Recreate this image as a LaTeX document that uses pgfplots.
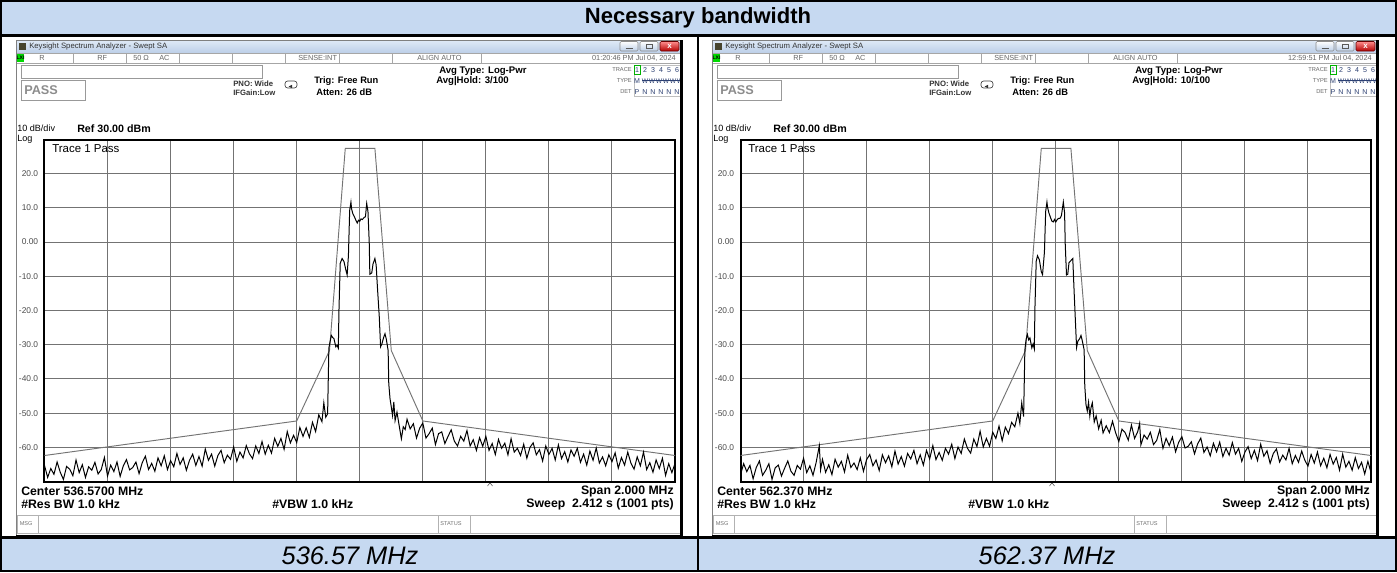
\documentclass[border=0pt]{standalone}
\usepackage{fontspec}
\setmainfont{Liberation Sans}
\usepackage{pgfplots}
\usepackage{pgfplotstable}
\pgfplotsset{compat=1.18}
\definecolor{tblue}{RGB}{198,217,241}
\definecolor{winA}{RGB}{224,234,247}
\definecolor{winB}{RGB}{188,207,232}
\definecolor{slate}{RGB}{45,65,115}
\newcommand\fs[1]{\fontsize{#1}{#1}\selectfont}

% limit (mask) line, same in both screens
\pgfplotstableread[row sep=\\]{x y\\ 0 -62.4\\ 4.0 -52.3\\ 4.52 -31.7\\ 4.77 27.4\\ 5.24 27.4\\ 5.50 -31.7\\ 6.0 -52.3\\ 10 -62.4\\}\limitA

% trace 1, 536.57 MHz
\pgfplotstableread[row sep=\\]{x y\\
0.00 -65.3\\ 0.05 -68.8\\ 0.10 -66.2\\ 0.15 -67.9\\ 0.20 -64.3\\ 0.25 -67.3\\ 0.30 -69.4\\ 0.35 -65.6\\ 0.40 -66.4\\ 0.45 -68.3\\
0.50 -63.7\\ 0.55 -67.4\\ 0.60 -65.1\\ 0.65 -68.8\\ 0.70 -65.7\\ 0.75 -66.7\\ 0.80 -64.4\\ 0.85 -67.8\\ 0.90 -66.5\\ 0.95 -63.0\\
1.00 -68.4\\ 1.05 -65.2\\ 1.10 -67.1\\ 1.15 -64.3\\ 1.20 -68.5\\ 1.25 -65.4\\ 1.30 -63.6\\ 1.35 -66.6\\ 1.40 -65.9\\ 1.45 -64.3\\
1.50 -67.7\\ 1.55 -64.5\\ 1.60 -62.6\\ 1.65 -66.5\\ 1.70 -64.7\\ 1.75 -67.0\\ 1.80 -63.1\\ 1.85 -65.4\\ 1.90 -62.5\\ 1.95 -66.5\\
2.00 -63.9\\ 2.05 -65.7\\ 2.10 -61.8\\ 2.15 -65.0\\ 2.20 -63.1\\ 2.25 -66.7\\ 2.30 -63.8\\ 2.35 -62.0\\ 2.40 -65.3\\ 2.45 -62.7\\
2.50 -65.5\\ 2.55 -60.5\\ 2.60 -63.8\\ 2.65 -62.0\\ 2.70 -65.5\\ 2.75 -62.4\\ 2.80 -60.9\\ 2.85 -64.5\\ 2.90 -62.3\\ 2.95 -63.5\\
3.00 -59.9\\ 3.05 -64.1\\ 3.10 -61.4\\ 3.15 -63.1\\ 3.20 -59.5\\ 3.25 -61.9\\ 3.30 -63.3\\ 3.35 -59.6\\ 3.40 -61.8\\ 3.45 -58.3\\
3.50 -62.0\\ 3.55 -59.4\\ 3.60 -61.7\\ 3.65 -57.4\\ 3.70 -59.7\\ 3.75 -57.4\\ 3.80 -60.6\\ 3.85 -55.4\\ 3.90 -58.7\\ 3.95 -56.5\\
4.00 -58.6\\ 4.05 -54.2\\ 4.10 -56.8\\ 4.15 -54.3\\ 4.20 -57.1\\ 4.25 -52.7\\ 4.30 -55.4\\ 4.35 -50.5\\ 4.40 -52.5\\ 4.43 -47.0\\
4.46 -51.2\\ 4.49 -50.2\\
4.51 -31.0\\ 4.53 -29.0\\ 4.55 -27.3\\ 4.57 -27.9\\ 4.59 -28.2\\ 4.62 -30.6\\ 4.64 -30.2\\ 4.66 -31.0\\ 4.67 -20.0\\ 4.69 -6.2\\
4.72 -4.8\\ 4.75 -5.7\\ 4.78 -8.2\\ 4.80 -9.6\\ 4.82 -4.0\\ 4.84 9.3\\ 4.86 11.7\\ 4.87 9.7\\ 4.89 8.3\\ 4.92 7.2\\
4.94 6.3\\ 4.96 5.6\\ 4.98 6.4\\ 5.00 6.1\\ 5.02 6.8\\ 5.04 6.6\\ 5.07 7.2\\ 5.09 7.4\\ 5.11 11.3\\ 5.13 9.0\\
5.15 0.0\\ 5.16 -9.4\\ 5.19 -9.0\\ 5.21 -6.4\\ 5.24 -4.8\\ 5.26 -6.7\\ 5.28 -13.2\\ 5.31 -22.0\\ 5.33 -30.6\\ 5.35 -29.8\\
5.38 -27.8\\ 5.40 -26.8\\ 5.42 -28.3\\ 5.45 -31.7\\ 5.46 -41.4\\ 5.48 -45.8\\ 5.50 -48.2\\ 5.52 -50.7\\ 5.54 -46.7\\ 5.56 -52.2\\
5.59 -49.7\\ 5.62 -53.1\\ 5.66 -57.5\\ 5.69 -54.0\\
5.72 -54.8\\ 5.75 -51.8\\ 5.80 -54.6\\ 5.85 -53.1\\ 5.90 -57.3\\ 5.95 -54.4\\ 6.00 -52.9\\ 6.05 -57.3\\ 6.10 -56.0\\ 6.15 -54.4\\
6.20 -59.2\\ 6.25 -56.0\\ 6.30 -55.5\\ 6.35 -58.9\\ 6.40 -56.8\\ 6.45 -54.9\\ 6.50 -58.2\\ 6.55 -59.6\\ 6.60 -56.8\\ 6.65 -58.2\\
6.70 -55.1\\ 6.75 -59.6\\ 6.80 -57.8\\ 6.85 -60.9\\ 6.90 -57.2\\ 6.95 -59.7\\ 7.00 -56.8\\ 7.05 -60.9\\ 7.10 -58.9\\ 7.15 -62.1\\
7.20 -57.7\\ 7.25 -60.3\\ 7.30 -58.8\\ 7.35 -62.2\\ 7.40 -57.5\\ 7.45 -61.4\\ 7.50 -60.3\\ 7.55 -62.4\\ 7.60 -59.1\\ 7.65 -63.2\\
7.70 -60.0\\ 7.75 -58.7\\ 7.80 -62.2\\ 7.85 -60.7\\ 7.90 -64.0\\ 7.95 -59.6\\ 8.00 -62.1\\ 8.05 -60.3\\ 8.10 -63.7\\ 8.15 -59.3\\
8.20 -63.3\\ 8.25 -61.3\\ 8.30 -64.3\\ 8.35 -60.8\\ 8.40 -62.6\\ 8.45 -60.3\\ 8.50 -64.4\\ 8.55 -62.0\\ 8.60 -65.2\\ 8.65 -61.1\\
8.70 -63.8\\ 8.75 -60.2\\ 8.80 -64.6\\ 8.85 -62.8\\ 8.90 -65.4\\ 8.95 -62.2\\ 9.00 -64.2\\ 9.05 -61.6\\ 9.10 -66.1\\ 9.15 -63.0\\
9.20 -65.2\\ 9.25 -61.4\\ 9.30 -64.6\\ 9.35 -66.4\\ 9.40 -62.8\\ 9.45 -65.4\\ 9.50 -61.4\\ 9.55 -66.5\\ 9.60 -64.5\\ 9.65 -67.3\\
9.70 -63.7\\ 9.75 -66.2\\ 9.80 -63.2\\ 9.85 -68.2\\ 9.90 -64.8\\ 9.95 -67.4\\ 10.00 -64.7\\
}\traceA

% trace 1, 562.37 MHz
\pgfplotstableread[row sep=\\]{x y\\
0.00 -68.0\\ 0.05 -64.8\\ 0.10 -67.1\\ 0.15 -65.3\\ 0.20 -69.2\\ 0.25 -65.9\\ 0.30 -64.0\\ 0.35 -68.2\\ 0.40 -66.7\\ 0.45 -64.8\\
0.50 -69.4\\ 0.55 -66.0\\ 0.60 -65.2\\ 0.65 -68.4\\ 0.70 -66.1\\ 0.75 -64.0\\ 0.80 -67.0\\ 0.85 -68.2\\ 0.90 -65.3\\ 0.95 -66.4\\
1.00 -63.2\\ 1.05 -67.4\\ 1.10 -65.4\\ 1.15 -68.2\\ 1.20 -64.4\\ 1.25 -59.5\\ 1.27 -66.6\\ 1.30 -63.5\\ 1.35 -67.3\\ 1.40 -65.1\\ 1.45 -68.0\\
1.50 -63.5\\ 1.55 -65.8\\ 1.60 -64.1\\ 1.65 -67.2\\ 1.70 -62.3\\ 1.75 -65.9\\ 1.80 -64.6\\ 1.85 -66.5\\ 1.90 -63.1\\ 1.95 -67.0\\
2.00 -63.6\\ 2.05 -62.1\\ 2.10 -65.4\\ 2.15 -63.7\\ 2.20 -66.8\\ 2.25 -62.2\\ 2.30 -64.5\\ 2.35 -62.5\\ 2.40 -65.7\\ 2.45 -61.1\\
2.50 -64.9\\ 2.55 -62.7\\ 2.60 -65.5\\ 2.65 -61.8\\ 2.70 -63.4\\ 2.75 -60.9\\ 2.80 -64.8\\ 2.85 -62.2\\ 2.90 -65.2\\ 2.95 -60.9\\
3.00 -63.4\\ 3.05 -59.5\\ 3.10 -63.6\\ 3.15 -61.5\\ 3.20 -63.8\\ 3.25 -60.3\\ 3.30 -62.0\\ 3.35 -59.1\\ 3.40 -63.3\\ 3.45 -59.9\\
3.50 -61.8\\ 3.55 -57.6\\ 3.60 -60.3\\ 3.65 -61.7\\ 3.70 -57.6\\ 3.75 -59.8\\ 3.80 -55.3\\ 3.85 -59.9\\ 3.90 -57.4\\ 3.95 -59.7\\
4.00 -55.6\\ 4.05 -57.4\\ 4.10 -53.8\\ 4.15 -58.1\\ 4.20 -54.1\\ 4.25 -56.0\\ 4.30 -52.7\\ 4.35 -54.0\\ 4.40 -50.0\\ 4.43 -53.0\\
4.46 -47.0\\ 4.49 -51.0\\
4.51 -31.5\\ 4.53 -28.4\\ 4.55 -27.0\\ 4.57 -28.6\\ 4.59 -28.0\\ 4.62 -30.9\\ 4.64 -29.8\\ 4.66 -31.2\\ 4.67 -19.0\\ 4.69 -5.6\\
4.71 -4.0\\ 4.74 -5.2\\ 4.77 -8.6\\ 4.79 -9.5\\ 4.82 -3.0\\ 4.84 9.0\\ 4.86 11.7\\ 4.87 10.2\\ 4.89 8.6\\ 4.92 7.0\\
4.94 6.1\\ 4.96 5.9\\ 4.98 6.6\\ 5.00 5.9\\ 5.02 6.5\\ 5.04 6.9\\ 5.07 7.0\\ 5.09 7.8\\ 5.12 11.7\\ 5.14 8.5\\
5.15 -0.5\\ 5.17 -9.6\\ 5.19 -9.4\\ 5.21 -6.0\\ 5.24 -5.4\\ 5.27 -4.8\\ 5.29 -14.0\\ 5.31 -22.5\\ 5.33 -30.8\\ 5.35 -29.0\\
5.38 -28.2\\ 5.40 -27.3\\ 5.42 -28.8\\ 5.45 -31.5\\ 5.46 -42.0\\ 5.48 -47.6\\ 5.50 -49.4\\ 5.52 -46.8\\ 5.54 -50.9\\ 5.56 -48.3\\
5.58 -47.0\\ 5.61 -52.6\\ 5.64 -50.8\\ 5.68 -54.6\\
5.72 -52.1\\ 5.75 -55.8\\ 5.80 -53.7\\ 5.85 -55.7\\ 5.90 -52.4\\ 5.95 -55.8\\ 6.00 -58.3\\ 6.05 -54.7\\ 6.10 -55.7\\ 6.15 -57.9\\
6.20 -53.5\\ 6.25 -57.4\\ 6.30 -55.4\\ 6.33 -53.0\\ 6.35 -59.3\\ 6.40 -56.4\\ 6.45 -57.6\\ 6.50 -55.6\\ 6.55 -59.2\\ 6.60 -58.0\\ 6.65 -54.8\\
6.70 -60.3\\ 6.75 -57.4\\ 6.80 -59.5\\ 6.85 -57.0\\ 6.90 -61.3\\ 6.95 -58.5\\ 7.00 -56.9\\ 7.05 -60.2\\ 7.10 -59.7\\ 7.15 -58.4\\
7.20 -61.9\\ 7.25 -59.0\\ 7.30 -57.3\\ 7.35 -61.5\\ 7.40 -59.9\\ 7.45 -62.5\\ 7.50 -58.8\\ 7.55 -61.3\\ 7.60 -58.5\\ 7.65 -62.7\\
7.70 -60.3\\ 7.75 -62.3\\ 7.80 -58.6\\ 7.85 -62.0\\ 7.90 -60.3\\ 7.95 -64.1\\ 8.00 -61.4\\ 8.05 -59.8\\ 8.10 -63.3\\ 8.15 -60.9\\
8.20 -63.9\\ 8.25 -59.1\\ 8.30 -62.6\\ 8.35 -61.0\\ 8.40 -64.7\\ 8.45 -61.8\\ 8.50 -60.5\\ 8.55 -64.3\\ 8.60 -62.3\\ 8.65 -63.7\\
8.70 -60.3\\ 8.75 -64.8\\ 8.80 -62.4\\ 8.85 -64.4\\ 8.90 -61.1\\ 8.95 -63.8\\ 9.00 -65.5\\ 9.05 -62.1\\ 9.10 -64.6\\ 9.15 -61.4\\
9.20 -65.4\\ 9.25 -63.2\\ 9.30 -66.0\\ 9.35 -62.1\\ 9.40 -64.9\\ 9.45 -63.0\\ 9.50 -66.7\\ 9.55 -62.0\\ 9.60 -65.8\\ 9.65 -64.1\\
9.70 -66.7\\ 9.75 -63.0\\ 9.80 -66.2\\ 9.85 -64.4\\ 9.90 -67.8\\ 9.95 -64.1\\ 10.00 -67.4\\
}\traceB

\pgfplotsset{sa/.style={anchor=north west, scale only axis,
  width=472.9pt, height=256.5pt,
  xmin=0, xmax=10, ymin=-70, ymax=30,
  xtick={1,2,...,9}, xticklabels={},
  ytick={-60,-50,...,20},
  yticklabels={-60.0,-50.0,-40.0,-30.0,-20.0,-10.0,0.00,10.0,20.0},
  grid=major, major grid style={line width=0.75pt, black!55},
  major tick length=0pt,
  axis line style={line width=1.5pt},
  yticklabel style={font=\fs{6.3}, text=black!70, inner sep=0pt, anchor=east, xshift=-4.6pt},
  clip=true}}

\newcommand\panel[5]{%
\begin{scope}[shift={(#1,0)}]
 \fill[white] (16,40) rectangle (681,535);
 \shade[top color=winA, bottom color=winB] (16,40) rectangle (681,53);
 \fill[black!65!olive] (19,43) rectangle (26,50);
 \node[anchor=west,inner sep=0,font=\fs{5.8},text=black!80] at (29,46.5) {Keysight Spectrum Analyzer - Swept SA};
 \shade[top color=white, bottom color=winB, draw=black!45, rounded corners=1pt] (620,41.5) rectangle (638,51);
 \draw[black!65, line width=0.7pt] (625.5,48) -- (632.5,48);
 \shade[top color=white, bottom color=winB, draw=black!45, rounded corners=1pt] (640,41.5) rectangle (658,51);
 \draw[black!65, line width=0.4pt] (646,44) rectangle (652,48.5);
 \shade[top color=red!45, bottom color=red!70!black, draw=red!40!black, rounded corners=1pt] (660,41.5) rectangle (679,51);
 \node[text=white, font=\fs{6}\bfseries, inner sep=0] at (669.5,46.3) {x};
 % status row
 \draw[black!35, line width=0.4pt] (16,53) rectangle (681,63);
 \foreach \s in {73,126,179,232,285,339,392,481} {\draw[black!35, line width=0.4pt] (\s,53) -- (\s,63);}
 \fill[green!85!black] (17,54) rectangle (24,62);
 \node[font=\fs{3.8}\bfseries, inner sep=0] at (20.5,58) {LXI};
 \begin{scope}[every node/.style={anchor=west, inner sep=0, font=\fs{5.5}, text=black!60}]
 \node at (39,58) {R};
 \node at (97,58) {RF};
 \node at (133,58) {50 Ω};
 \node at (159,58) {AC};
 \node at (298,58) {SENSE:INT};
 \node at (417,58) {ALIGN AUTO};
 \node[anchor=east] at (676,58) {#2};
 \end{scope}
 % boxes
 \draw[black!40, line width=0.5pt] (21,65) rectangle (262,78);
 \draw[black!40, line width=0.6pt] (21,80) rectangle (85,100.5);
 \node[anchor=west, inner sep=0, font=\fs{9.5}\bfseries, text=black!45] at (24,90.5) {PASS};
 \node[anchor=west, inner sep=0, font=\fs{5.8}\bfseries, text=black!80] at (233,83.5) {PNO: Wide};
 \node[anchor=west, inner sep=0, font=\fs{5.8}\bfseries, text=black!80] at (233,93) {IFGain:Low};
 \draw[black!75, line width=0.5pt, rounded corners=2pt] (285,81) rectangle (297,88);
 \fill[black!80] (288.5,86.5) -- (292,84.8) -- (292,88.2) -- cycle;
 \node[anchor=west, inner sep=0, font=\fs{7}\bfseries] at (314,81.5) {Trig: Free Run};
 \node[anchor=west, inner sep=0, font=\fs{7}\bfseries] at (316,92) {Atten: 26 dB};
 \node[anchor=west, inner sep=0, font=\fs{7.2}\bfseries] at (439,71) {Avg Type: Log-Pwr};
 \node[anchor=west, inner sep=0, font=\fs{7.2}\bfseries] at (436,81.5) {Avg|Hold: #3};
 % trace table
 \begin{scope}[every node/.style={anchor=east, inner sep=0, font=\fs{4.3}, text=black!60}]
 \node at (632,69.5) {TRACE};
 \node at (632,81) {TYPE};
 \node at (632,92) {DET};
 \end{scope}
 \draw[black!25, line width=0.4pt] (634,65) rectangle (681,96.5);
 \draw[green!70!black, line width=0.4pt] (633.8,65.5) rectangle (640.3,74.5);
 \foreach \n/\xx in {1/637,2/645,3/653,4/661,5/669,6/677} {\node[font=\fs{5.3}, text=slate, inner sep=0] at (\xx,70) {\n};}
 \node[font=\fs{5.3}, text=slate, inner sep=0] at (637,81) {M};
 \foreach \xx in {645,652,659,666,673,680} {\node[font=\fs{5}, text=slate, inner sep=0] at (\xx,81) {W};}
 \draw[slate, line width=0.3pt] (642,80.6) -- (682,80.6);
 \node[font=\fs{5.3}, text=slate, inner sep=0] at (637,92) {P};
 \foreach \xx in {645,653,661,669,677} {\node[font=\fs{5.3}, text=slate, inner sep=0] at (\xx,92) {N};}
 % scale texts
 \node[anchor=west, inner sep=0, font=\fs{6.8}] at (17,128.5) {10 dB/div};
 \node[anchor=west, inner sep=0, font=\fs{8}\bfseries] at (77,129) {Ref 30.00 dBm};
 \node[anchor=west, inner sep=0, font=\fs{6.8}] at (17,139) {Log};
 % bottom texts
 \node[anchor=west, inner sep=0, font=\fs{9.2}\bfseries] at (21,491) {Center #4};
 \node[anchor=east, inner sep=0, font=\fs{9.2}\bfseries] at (674,491) {Span 2.000 MHz};
 \node[anchor=west, inner sep=0, font=\fs{9.2}\bfseries] at (21,504.5) {\#Res BW 1.0 kHz};
 \node[anchor=west, inner sep=0, font=\fs{9.2}\bfseries] at (272,504.5) {\#VBW 1.0 kHz};
 \node[anchor=east, inner sep=0, font=\fs{9.2}\bfseries] at (674,504.5) {Sweep\ \ 2.412 s (1001 pts)};
 \draw[black!70, line width=0.4pt] ({#5-2.5},486) -- (#5,482.8) -- ({#5+2.5},486);
 % message row
 \draw[black!30, line width=0.4pt] (17,515) rectangle (680,533);
 \foreach \s in {38,438,470} {\draw[black!30, line width=0.4pt] (\s,515) -- (\s,533);}
 \node[anchor=west, inner sep=0, font=\fs{4.2}, text=black!55] at (19.5,524) {MSG};
 \node[anchor=west, inner sep=0, font=\fs{4.2}, text=black!55] at (440,524) {STATUS};
 % window frame
 \draw[black!50, line width=0.5pt] (16,40) rectangle (681,535);
 \draw[black, line width=2pt] (681.5,40) -- (681.5,536) -- (16,536);
\end{scope}}

\begin{document}
\begin{tikzpicture}
\begin{scope}[x=0.75pt, y=-0.75pt]
 \useasboundingbox (0,0) rectangle (1397,572);
 \fill[white] (0,0) rectangle (1397,572);
 \fill[tblue] (1,1) rectangle (1396,35);
 \fill[tblue] (1,538) rectangle (1396,571);
 \panel{0}{01:20:46 PM Jul 04, 2024}{3/100}{536.5700 MHz}{490}
 \panel{696}{12:59:51 PM Jul 04, 2024}{10/100}{562.370 MHz}{356}
 \draw[line width=2.2pt] (0,35.8) -- (1397,35.8);
 \draw[line width=2.2pt] (0,537.8) -- (1397,537.8);
 \draw[line width=1.5pt] (698,35.8) -- (698,571);
 \draw[line width=1.8pt] (1.2,1.2) rectangle (1395.8,570.8);
 \node[font=\fs{16.5}\bfseries] at (698,18) {Necessary bandwidth};
 \node[font=\fs{19}\itshape] at (350,556) {536.57 MHz};
 \node[font=\fs{19}\itshape] at (1047,556) {562.37 MHz};
 \coordinate (P1) at (44.5,139.5);
 \coordinate (P2) at (740.5,139.5);
\end{scope}

\begin{axis}[sa, at={(P1)}]
 \addplot[black!55, line width=0.7pt] table {\limitA};
 \addplot[black, line width=0.75pt] table {\traceA};
\end{axis}
\begin{axis}[sa, at={(P2)}]
 \addplot[black!55, line width=0.7pt] table {\limitA};
 \addplot[black, line width=0.75pt] table {\traceB};
\end{axis}

\begin{scope}[x=0.75pt, y=-0.75pt]
 \node[anchor=west, inner sep=0, font=\fs{8.6}] at (52,148.5) {Trace 1 Pass};
 \node[anchor=west, inner sep=0, font=\fs{8.6}] at (748,148.5) {Trace 1 Pass};
\end{scope}
\end{tikzpicture}
\end{document}
